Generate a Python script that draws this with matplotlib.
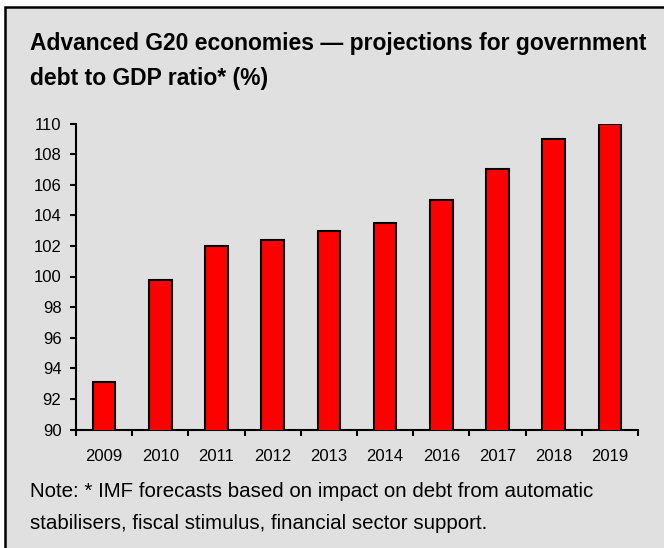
import matplotlib
matplotlib.use("Agg")
import matplotlib.pyplot as plt
from matplotlib.patches import Rectangle
from matplotlib.ticker import FixedLocator, NullFormatter

plt.rcParams["font.family"] = ["Liberation Sans", "Arimo", "DejaVu Sans"]

# Government debt to GDP ratio, advanced G20 economies (%)
years = ["2009", "2010", "2011", "2012", "2013", "2014", "2016", "2017", "2018", "2019"]
debt_ratio = [93.1, 99.8, 102.0, 102.4, 103.0, 103.5, 105.0, 107.0, 109.0, 110.0]
y_ticks = [90, 92, 94, 96, 98, 100, 102, 104, 106, 108, 110]

title_lines = ["Advanced G20 economies \u2014 projections for government",
               "debt to GDP ratio* (%)"]
note_lines = ["Note: * IMF forecasts based on impact on debt from automatic",
              "stabilisers, fiscal stimulus, financial sector support."]

W, H = 664, 548
fig = plt.figure(figsize=(W / 100, H / 100), dpi=100)
fig.patch.set_facecolor("white")

def fx(px):
    return px / W

def fy(py):
    return 1 - py / H

# grey panel with a black frame, running off the right and bottom edges
panel = Rectangle((fx(5), fy(H + 20)), 1.2, fy(7) - fy(H + 20),
                  transform=fig.transFigure, facecolor="#e0e0e0",
                  edgecolor="black", linewidth=1.8, zorder=-10)
fig.patches.append(panel)

ax = fig.add_axes([fx(76), fy(429.5), fx(638) - fx(76), fy(123.5) - fy(429.5)])
ax.set_zorder(5)
ax.set_facecolor("none")

x = list(range(len(years)))
ax.bar(x, debt_ratio, width=0.4, bottom=0, color="#ff0000",
       edgecolor="black", linewidth=1.5, zorder=3)

ax.set_xlim(-0.5, len(years) - 0.5)
ax.set_ylim(90, 110)
ax.set_yticks(y_ticks)
ax.set_yticklabels([str(v) for v in y_ticks])

ax.set_xticks(x)
ax.set_xticklabels(years)
ax.xaxis.set_minor_locator(FixedLocator([i - 0.5 for i in range(len(years) + 1)]))
ax.xaxis.set_minor_formatter(NullFormatter())
ax.tick_params(axis="x", which="major", length=0, pad=14, labelsize=12)
ax.tick_params(axis="x", which="minor", length=4.5, width=1.5, direction="out")
ax.tick_params(axis="y", length=4.5, width=1.5, direction="out", pad=6, labelsize=12)

for side in ("top", "right"):
    ax.spines[side].set_visible(False)
for side in ("left", "bottom"):
    ax.spines[side].set_linewidth(1.5)

fig.text(fx(30), fy(50), title_lines[0], fontsize=16.5, fontweight="bold",
         va="baseline", ha="left", zorder=6)
fig.text(fx(30), fy(85), title_lines[1], fontsize=16.5, fontweight="bold",
         va="baseline", ha="left", zorder=6)
fig.text(fx(30), fy(497), note_lines[0], fontsize=14.8, va="baseline", ha="left", zorder=6)
fig.text(fx(30), fy(529), note_lines[1], fontsize=14.8, va="baseline", ha="left", zorder=6)

fig.savefig("out.png", dpi=100, facecolor="white")
